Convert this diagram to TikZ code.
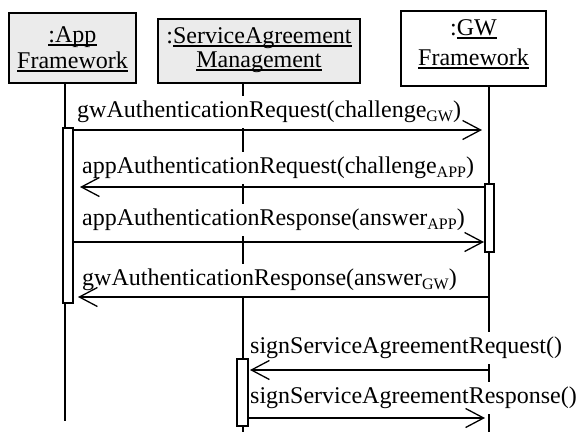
\documentclass[tikz,border=0pt]{standalone}
\usepackage{fontspec}
\setmainfont{Liberation Serif}
\usetikzlibrary{arrows.meta}
% underline sitting just below the baseline
\newcommand{\ulin}[1]{\setbox0\hbox{#1}\rlap{\rule[-3.7pt]{\wd0}{1.4pt}}\box0}
% lowered, smaller index text
\newcommand{\idx}[1]{\raisebox{-4.5pt}{\fontsize{16}{16}\selectfont #1}}
\tikzset{
  objbox/.style={draw=black, line width=2pt, inner sep=0pt},
  objtext/.style={anchor=base, inner sep=0pt, font=\fontsize{24}{28}\selectfont},
  lifeline/.style={draw=black, line width=1.4pt},
  actbox/.style={draw=black, fill=white, line width=2pt, inner sep=0pt, minimum width=10pt},
  msglabel/.style={anchor=base west, fill=white, inner xsep=2pt, inner ysep=4.5pt,
    text height=17pt, text depth=6pt, font=\fontsize{24}{28}\selectfont},
  msg/.style={draw=black, line width=1.3pt, -{Straight Barb[length=18pt,width=19pt]}},
}
\definecolor{boxgray}{HTML}{EBEBEB}
\begin{document}
\begin{tikzpicture}[x=1pt, y=-1pt]
\useasboundingbox (0,0) rectangle (579,432);

% object boxes
\node[objbox, fill=boxgray, minimum width=127pt, minimum height=70pt] (appbox) at (72.5,48) {};
\node[objbox, fill=boxgray, minimum width=202pt, minimum height=64pt] (sambox) at (259,51) {};
\node[objbox, fill=white, minimum width=145pt, minimum height=75pt] (gwbox) at (473.5,48.5) {};

\node[objtext] (app1) at (72.5,42) {\ulin{:App}};
\node[objtext] (app2) at (72.5,68) {\ulin{Framework}};
\node[objtext] (sam1) at (259,43) {:\ulin{ServiceAgreement}};
\node[objtext] (sam2) at (259,67) {\ulin{Management}};
\node[objtext] (gw1) at (473.5,35) {:\ulin{GW}};
\node[objtext] (gw2) at (473.5,65) {\ulin{Framework}};

% lifelines
\coordinate (appTop) at (65,83);   \coordinate (appEnd) at (65,421);
\coordinate (samTop) at (243,83);  \coordinate (samEnd) at (243,432);
\coordinate (gwTop) at (489,86);   \coordinate (gwEnd) at (489,432);
\draw[lifeline] (appTop) -- (appEnd);
\draw[lifeline] (samTop) -- (samEnd);
\draw[lifeline] (gwTop) -- (gwEnd);

% message labels
\node[msglabel] (l1) at (75,117) {gwAuthenticationRequest(challenge\idx{GW})};
\node[msglabel] (l2) at (80,173) {appAuthenticationRequest(challenge\idx{APP})};
\node[msglabel] (l3) at (80,225) {appAuthenticationResponse(answer\idx{APP})};
\node[msglabel] (l4) at (80,285) {gwAuthenticationResponse(answer\idx{GW})};
\node[msglabel] (l5) at (248,353) {signServiceAgreementRequest()};
\node[msglabel] (l6) at (248,403) {signServiceAgreementResponse()};

% message end points
\coordinate (m1s) at (73,130);  \coordinate (m1e) at (482,130);
\coordinate (m2s) at (485,187); \coordinate (m2e) at (80,187);
\coordinate (m3s) at (73,242);  \coordinate (m3e) at (484,242);
\coordinate (m4s) at (489,297); \coordinate (m4e) at (78,297);
\coordinate (m5s) at (489,370); \coordinate (m5e) at (250,370);
\coordinate (m6s) at (248,418); \coordinate (m6e) at (485,418);

\draw[msg] (m1s) -- (m1e);
\draw[msg] (m2s) -- (m2e);
\draw[msg] (m3s) -- (m3e);
\draw[msg] (m4s) -- (m4e);
\draw[msg] (m5s) -- (m5e);
\draw[msg] (m6s) -- (m6e);

% activation bars
\node[actbox, minimum height=175pt] (appact) at (68,215.5) {};
\node[actbox, minimum width=9pt, minimum height=68pt] (gwact) at (489.5,218) {};
\node[actbox, minimum width=11pt, minimum height=67pt] (samact) at (242.5,392.5) {};
\end{tikzpicture}
\end{document}
